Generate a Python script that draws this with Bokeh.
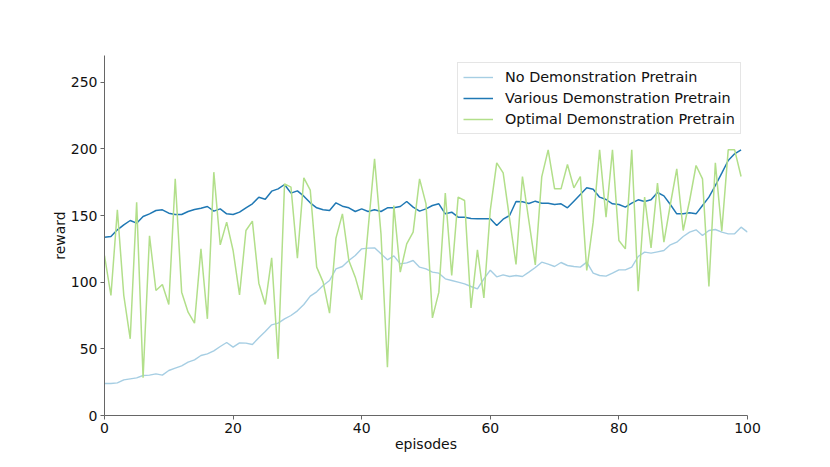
from bokeh.plotting import figure
from bokeh.models import Range1d, Legend, LegendItem, FixedTicker
from bokeh.embed import file_html
from bokeh.resources import INLINE

episodes_no = list(range(101))
episodes = list(range(100))

no_demo = [24, 24, 24.5, 26.75, 27.5, 28.25, 30, 30.25, 31.25, 30.25,
           33.75, 35.5, 37.25, 40, 41.75, 45, 46.25, 48.5, 51.75, 54.75,
           51.25, 54.5, 54.25, 53.25, 58.25, 63, 68, 69.25, 72.5, 75,
           78.5, 83.25, 89.5, 92.75, 97.5, 101.25, 110, 111.75, 116.25, 120,
           125, 125.5, 125.75, 121.25, 116.75, 119.75, 113.75, 114.5, 116.25, 111.25,
           110, 107.5, 106.75, 102.5, 101.25, 100, 98.75, 96.75, 95, 102.5,
           109, 104, 105.5, 104.25, 105, 104.25, 107.5, 111, 115, 113.5,
           111.75, 114.75, 112.5, 111.75, 111.25, 115, 106.75, 105, 104.5, 106.75,
           109.25, 109.25, 111.25, 119.25, 122.5, 121.75, 122.75, 123.75, 128, 130,
           134.25, 137.5, 139.25, 135, 138.75, 139.5, 137.5, 136.25, 136.25, 141.25,
           137.5]

various_demo = [133.75, 134.25, 139.25, 143, 146.25, 144.25, 149.25, 151.25, 153.75, 154.25,
                151.75, 150.75, 150.75, 153, 154.5, 155.5, 156.75, 153.25, 155, 151.25,
                150.75, 152.5, 155.75, 158.75, 163.75, 162.25, 168.25, 170, 173.25, 166.75,
                168.5, 164.5, 159.5, 155.75, 154.25, 153.75, 159.5, 157, 155.75, 153,
                155, 153, 154.25, 153, 155.75, 155.75, 156.75, 160.5, 156.25, 153.25,
                155, 157.5, 158.75, 151.25, 152.5, 148.75, 148.75, 147.75, 147.5, 147.5,
                147.5, 142.5, 147.25, 150, 160.5, 160.25, 159, 160.75, 159.25, 159.25,
                158.25, 158.75, 155.75, 160.75, 165.75, 170.75, 169.75, 163.75, 162, 158.75,
                158.25, 156.25, 159.25, 161.75, 160.5, 161.75, 167.25, 164.75, 158.25, 151.25,
                151.25, 152, 151.25, 157.5, 163.75, 172.5, 181.75, 191.25, 196.25, 199.25]

optimal_demo = [120, 90, 154.25, 90, 57.5, 160, 28.25, 134.75, 93.75, 98.25,
                83.25, 177.5, 92.5, 77.5, 69.25, 125, 72.5, 182.5, 128, 145,
                123.75, 90.5, 138.75, 145.75, 99.25, 83.25, 118.25, 42.5, 173.75, 171.25,
                118, 178.25, 169, 111.25, 100, 76.75, 133, 151.25, 116.25, 103.75,
                86.75, 140, 192.5, 136.25, 36.25, 157.5, 107.5, 128.75, 137.5, 177.5,
                158.75, 73.25, 92.5, 166.75, 105, 163.75, 161.25, 80.75, 124.25, 88.25,
                154, 189.5, 182, 147.5, 113.25, 179.25, 146, 113, 179, 199.25,
                170, 170, 188.25, 170.75, 179.25, 108.75, 145, 199.25, 148.75, 199.25,
                131.25, 125, 199.25, 93.25, 163.75, 125.75, 174.25, 130, 158.25, 185,
                138.75, 161.25, 187.5, 177.5, 96.75, 189.5, 138.25, 199.25, 199.25, 179.25]

labels = ["No Demonstration Pretrain", "Various Demonstration Pretrain",
          "Optimal Demonstration Pretrain"]
colors = ["#a6cee3", "#1f78b4", "#b2df8a"]

FONT = "DejaVu Sans"

p = figure(width=822, height=463, output_backend="svg", toolbar_location=None,
           x_range=Range1d(0, 100), y_range=Range1d(0, 270),
           min_border_left=104, min_border_right=75, min_border_top=55,
           min_border_bottom=48)
p.outline_line_color = None
p.xgrid.grid_line_color = None
p.ygrid.grid_line_color = None
p.background_fill_color = "white"
p.border_fill_color = "white"

r1 = p.line(episodes_no, no_demo, line_color=colors[0], line_width=1.4)
r2 = p.line(episodes, various_demo, line_color=colors[1], line_width=1.5)
r3 = p.line(episodes, optimal_demo, line_color=colors[2], line_width=1.5)

p.xaxis.ticker = FixedTicker(ticks=[0, 20, 40, 60, 80, 100])
p.yaxis.ticker = FixedTicker(ticks=[0, 50, 100, 150, 200, 250])
for ax in (p.xaxis, p.yaxis):
    ax.axis_line_color = "#666666"
    ax.major_tick_line_color = "#666666"
    ax.major_tick_in = 0
    ax.major_tick_out = 4
    ax.minor_tick_line_color = None
    ax.major_label_text_font = FONT
    ax.major_label_text_font_size = "14px"
    ax.major_label_text_color = "#111111"
    ax.axis_label_text_font = FONT
    ax.axis_label_text_font_size = "14px"
    ax.axis_label_text_font_style = "normal"
    ax.axis_label_text_color = "#111111"
p.xaxis.axis_label = "episodes"
p.yaxis.axis_label = "reward"
p.xaxis.major_label_standoff = 3
p.yaxis.major_label_standoff = 3
p.xaxis.axis_label_standoff = 0
p.yaxis.axis_label_standoff = 0

legend = Legend(items=[LegendItem(label=labels[0], renderers=[r1]),
                       LegendItem(label=labels[1], renderers=[r2]),
                       LegendItem(label=labels[2], renderers=[r3])],
                location=(353, 281))
legend.label_text_font = FONT
legend.label_text_font_size = "14.4px"
legend.label_text_color = "#111111"
legend.glyph_width = 30
legend.glyph_height = 18
legend.label_height = 18
legend.label_standoff = 12
legend.spacing = 3
legend.padding = 5
legend.border_line_color = "#cccccc"
legend.border_line_width = 1
legend.background_fill_alpha = 0.8
p.add_layout(legend)

open("out.html", "w").write(file_html(p, INLINE))
